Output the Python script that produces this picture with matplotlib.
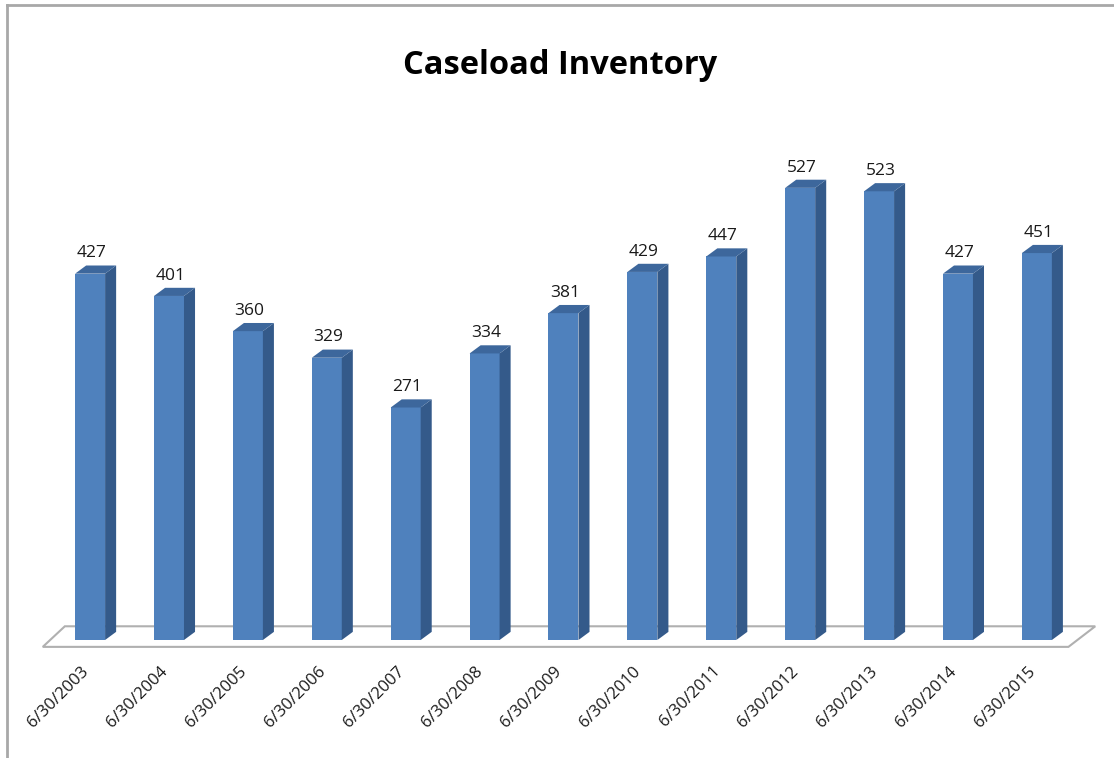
import matplotlib
matplotlib.use('Agg')
import matplotlib.pyplot as plt
from matplotlib.patches import Polygon
from matplotlib.lines import Line2D

dates = ['6/30/2003', '6/30/2004', '6/30/2005', '6/30/2006', '6/30/2007',
         '6/30/2008', '6/30/2009', '6/30/2010', '6/30/2011', '6/30/2012',
         '6/30/2013', '6/30/2014', '6/30/2015']
caseload = [427, 401, 360, 329, 271, 334, 381, 429, 447, 527, 523, 427, 451]

plt.rcParams['font.family'] = ['Open Sans', 'DejaVu Sans']

front_color = '#4f81bd'
side_color = '#345a8a'
top_color = '#3d679c'

fig = plt.figure(figsize=(11.14, 7.58), dpi=100)
ax = fig.add_axes([0.0313, 0.1217, 0.9632, 0.7131])
ax.set_xlim(-0.7, 12.9)
ax.set_ylim(-30, 600)
ax.axis('off')

width = 0.38
dx, dy = 0.14, 9.5

# floor
floor = Polygon([(-0.6, -8), (12.4, -8), (12.74, 16), (-0.32, 16)],
                closed=True, facecolor='white', edgecolor='#b0b0b0',
                linewidth=1.5, zorder=1)
ax.add_patch(floor)

for i, (label, v) in enumerate(zip(dates, caseload)):
    l, r = i - width / 2, i + width / 2
    ax.add_patch(Polygon([(l, 0), (r, 0), (r, v), (l, v)],
                         facecolor=front_color, edgecolor='none', zorder=3))
    ax.add_patch(Polygon([(r, 0), (r + dx, dy), (r + dx, v + dy), (r, v)],
                         facecolor=side_color, edgecolor='none', zorder=3))
    ax.add_patch(Polygon([(l, v), (r, v), (r + dx, v + dy), (l + dx, v + dy)],
                         facecolor=top_color, edgecolor='none', zorder=3))
    ax.annotate(str(v), (i + 0.02, v + dy), xytext=(0, 3),
                textcoords='offset points', ha='center', va='bottom',
                fontsize=12.5, color='#1a1a1a')
    ax.text(i - 0.12, -27, label, rotation=45, rotation_mode='anchor',
            ha='right', va='top', fontsize=12, color='#1a1a1a', clip_on=False)

fig.text(0.503, 0.914, 'Caseload Inventory', ha='center', va='center',
         fontsize=23.5, fontweight='bold', color='black')

# chart frame
fig.add_artist(Line2D([0.0063, 1.0], [0.9934, 0.9934], color='#a8a8a8', linewidth=2))
fig.add_artist(Line2D([0.0063, 0.0063], [0.0, 0.9934], color='#a8a8a8', linewidth=2))

fig.savefig('out.png', dpi=100, facecolor='white')
